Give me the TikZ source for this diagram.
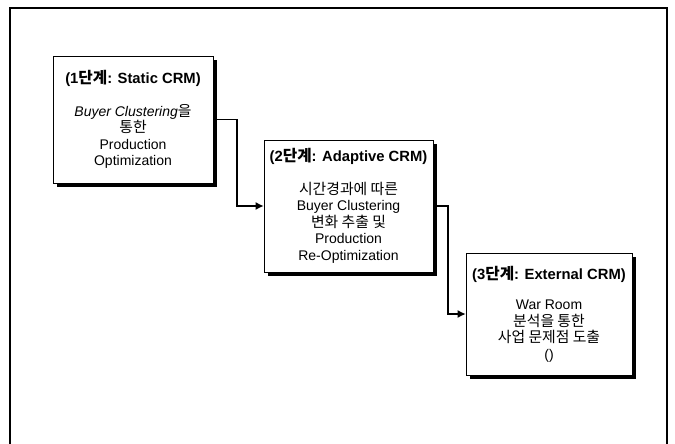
\documentclass[tikz,border=0pt]{standalone}
\usepackage{fontspec}
\setmainfont{Liberation Sans}
\newfontfamily\kr{Noto Sans CJK KR}[Scale=1.06]
\usetikzlibrary{arrows.meta,shadows}

\begin{document}
\begin{tikzpicture}[x=1pt, y=-1pt]
    \tikzstyle{stage} = [rectangle, draw=black, line width=0.8pt, fill=white, align=center, inner sep=0pt, font=\fontsize{14}{16.5}\selectfont, drop shadow={shadow xshift=4pt, shadow yshift=-4pt, fill=black, opacity=1}]
    \tikzstyle{flow} = [-{Latex[length=8pt, width=8pt]}, line width=1.1pt]
    \newcommand{\stagehead}[1]{{\fontsize{14.8}{16.5}\selectfont\bfseries #1}}

    \useasboundingbox (0,0) rectangle (675,444);

    % Outer frame (open at the bottom)
    \draw [line width=1.5pt] (10,444) -- (10,8) -- (667,8) -- (667,444);

    % Stage boxes
    \node [stage, minimum width=160pt, minimum height=127pt] (static_crm) at (133,119.5)
        {\stagehead{(1{\kr 단계}: Static CRM)}\\[16pt]
         \textit{Buyer Clustering}{\kr 을}\\{\kr 통한}\\Production\\Optimization};
    \node [stage, minimum width=169pt, minimum height=132pt] (adaptive_crm) at (348.5,206)
        {\stagehead{(2{\kr 단계}: Adaptive CRM)}\\[16pt]
         {\kr 시간경과에 따른}\\Buyer Clustering\\{\kr 변화 추출 및}\\Production\\Re-Optimization};
    \node [stage, minimum width=166pt, minimum height=122pt] (external_crm) at (549,314)
        {\stagehead{(3{\kr 단계}: External CRM)}\\[14pt]
         War Room\\{\kr 분석을 통한}\\{\kr 사업 문제점 도출}\\()};

    % Connectors between stages
    \coordinate (bend_1) at (237,0);
    \coordinate (bend_2) at (448,0);
    \draw [flow] (static_crm.east) -| (bend_1 |- adaptive_crm.west) -- (adaptive_crm.west);
    \draw [flow] (adaptive_crm.east) -| (bend_2 |- external_crm.west) -- (external_crm.west);
\end{tikzpicture}
\end{document}
